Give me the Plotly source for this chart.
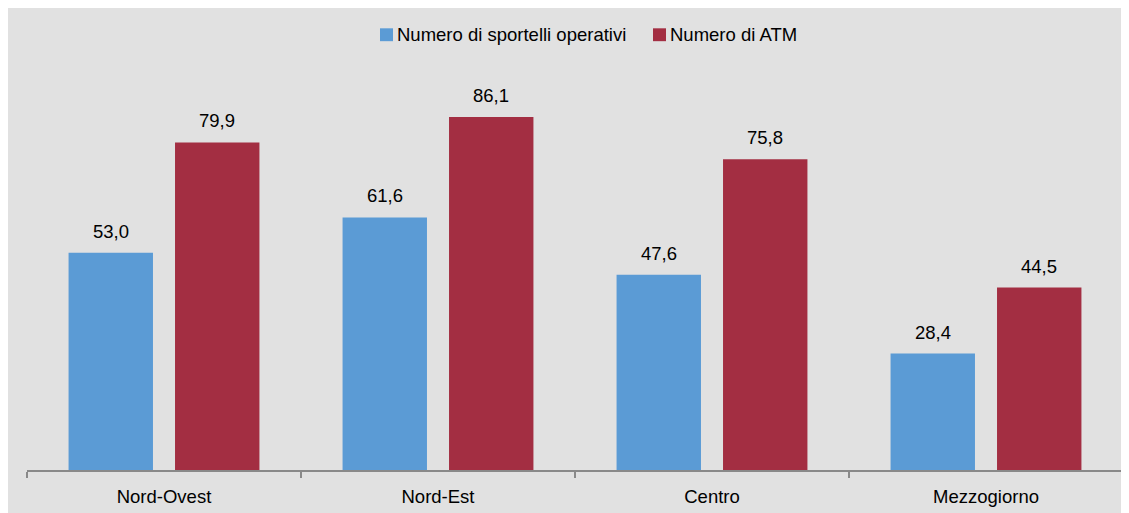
import plotly.graph_objects as go

categories = ["Nord-Ovest", "Nord-Est", "Centro", "Mezzogiorno"]
series_names = ["Numero di sportelli operativi", "Numero di ATM"]
sportelli = [53.0, 61.6, 47.6, 28.4]
atm = [79.9, 86.1, 75.8, 44.5]
colors = ["#5B9BD5", "#A32E42"]

# page has an 8px body margin; figure sized to fill the rest of the window
OFF = 8
W, H = 1129 - OFF, 513 - OFF
ml, mr, mt, mb = 27 - OFF, 6, 60 - OFF, 39
pw, ph = W - ml - mr, H - mt - mb
FONT = "Liberation Sans, Arial, sans-serif"
FS = 18.5

def px(xpage):
    return (xpage - OFF - ml) / pw

def py(ypage):
    return (H - mb - (ypage - OFF)) / ph

fig = go.Figure()
for name, vals, col in zip(series_names, [sportelli, atm], colors):
    fig.add_trace(go.Bar(
        x=categories, y=vals, name=name, marker=dict(color=col, line=dict(width=0)),
        showlegend=False, offsetgroup=name,
    ))

# data labels
offsets = [-0.5, 0.5]
for si, vals in enumerate([sportelli, atm]):
    for ci, v in enumerate(vals):
        fig.add_annotation(
            x=ci, y=v, xref="x", yref="y", text=f"{v:.1f}".replace(".", ","),
            showarrow=False, yanchor="bottom", xanchor="center",
            xshift=offsets[si] * 106.5, yshift=9,
            font=dict(family=FONT, size=FS, color="#000000"),
        )

# manual legend
leg = [(380, 395, series_names[0], colors[0]), (653, 668, series_names[1], colors[1])]
for x0, tx, name, col in leg:
    fig.add_shape(type="rect", xref="paper", yref="paper",
                  x0=px(x0), x1=px(x0 + 13), y0=py(41), y1=py(28),
                  fillcolor=col, line=dict(width=0))
    fig.add_annotation(x=px(tx), y=py(34.5), xref="paper", yref="paper", text=name,
                       showarrow=False, xanchor="left", yanchor="middle",
                       font=dict(family=FONT, size=FS, color="#000000"))

fig.update_layout(
    width=W, height=H,
    margin=dict(l=ml, r=mr, t=mt, b=mb),
    paper_bgcolor="#E1E1E1", plot_bgcolor="rgba(0,0,0,0)",
    barmode="group", bargap=0.223, bargroupgap=0.207,
    font=dict(family=FONT, size=FS, color="#000000"),
    showlegend=False,
)
fig.update_xaxes(
    showline=True, linecolor="#898989", linewidth=2,
    ticks="outside", tickson="boundaries", ticklen=6, tickwidth=2, tickcolor="#898989",
    ticklabelstandoff=9,
    showgrid=False, zeroline=False,
    tickfont=dict(family=FONT, size=FS, color="#000000"),
)
fig.update_yaxes(visible=False, range=[0, 100], showgrid=False, zeroline=False)

fig.write_html("out.html")
